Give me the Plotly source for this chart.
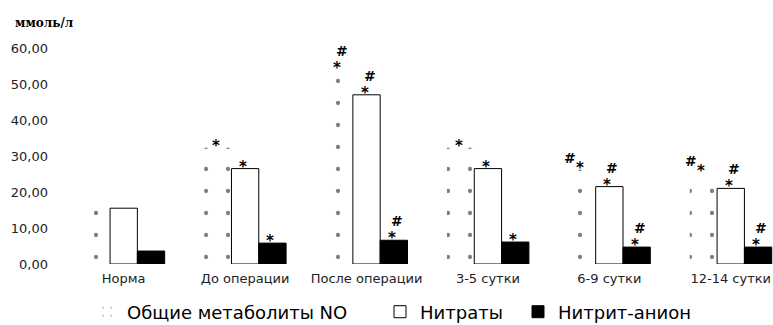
import plotly.graph_objects as go

# ---- data ----
categories = ["Норма", "До операции", "После операции", "3-5 сутки", "6-9 сутки", "12-14 сутки"]
total_no = [19.1, 32.3, 53.9, 32.3, 26.2, 25.4]
nitrates = [15.5, 26.5, 47.0, 26.5, 21.5, 21.0]
nitrite = [3.6, 5.8, 6.6, 6.1, 4.7, 4.7]

series_names = ["Общие метаболиты NO", "Нитраты", "Нитрит-анион"]

# significance marks: * vs norm, # vs pre-operation
total_star = [False, True, True, True, True, True]
total_hash = [False, False, True, False, True, True]
nitrates_star = [False, True, True, True, True, True]
nitrates_hash = [False, False, True, False, True, True]
nitrite_star = [False, True, True, True, True, True]
nitrite_hash = [False, False, True, False, True, True]

y_tick_vals = [0, 10, 20, 30, 40, 50, 60]
y_tick_text = ["0,00", "10,00", "20,00", "30,00", "40,00", "50,00", "60,00"]
y_title = "ммоль/л"

# ---- layout constants ----
W, H = 773, 325
ML, MR, MT, MB = 63, 0, 48, 61
plot_w = W - ML - MR
x_range = [-0.5, 5.348]
px_per_cat = plot_w / (x_range[1] - x_range[0])
bargap = 0.325
bar_px = px_per_cat * (1 - bargap) / 3

FONT = "DejaVu Sans"

fig = go.Figure()
fig.add_trace(go.Bar(
    name=series_names[0], x=categories, y=total_no,
    marker=dict(color="white", line=dict(width=0),
                pattern=dict(shape=".", fgcolor="#000", bgcolor="white",
                             size=22, solidity=0.03, fillmode="overlay")),
    legend="legend",
))
fig.add_trace(go.Bar(
    name=series_names[1], x=categories, y=nitrates,
    marker=dict(color="white", line=dict(color="#000", width=1)),
    legend="legend2",
))
fig.add_trace(go.Bar(
    name=series_names[2], x=categories, y=nitrite,
    marker=dict(color="#000", line=dict(color="#000", width=1)),
    legend="legend3",
))

annotations = []
all_vals = [total_no, nitrates, nitrite]
all_star = [total_star, nitrates_star, nitrite_star]
all_hash = [total_hash, nitrates_hash, nitrite_hash]
for s in range(3):
    off = (s - 1) * bar_px
    for i, cat in enumerate(categories):
        v = all_vals[s][i]
        if all_star[s][i]:
            annotations.append(dict(
                x=cat, y=v, xref="x", yref="y", text="<b>*</b>", showarrow=False,
                xshift=off - 2, yshift=2, yanchor="middle",
                font=dict(family=FONT, size=15, color="#000"),
            ))
        if all_hash[s][i]:
            beside = (s == 0 and i >= 4)
            annotations.append(dict(
                x=cat, y=v, xref="x", yref="y", text="<b>#</b>", showarrow=False,
                xshift=off - 12 if beside else off + 3,
                yshift=12 if beside else 19, yanchor="middle",
                font=dict(family=FONT, size=14, color="#000"),
            ))

annotations.append(dict(
    x=(13 - ML) / plot_w, y=(H - MB - 23) / (H - MT - MB), xref="paper", yref="paper",
    text="<b>" + y_title + "</b>", showarrow=False, xanchor="left", yanchor="middle",
    font=dict(family="DejaVu Serif", size=12, color="#000"),
))

legend_common = dict(orientation="h", xref="container", yref="container",
                      xanchor="left", yanchor="middle", y=1 - 312 / H,
                      font=dict(family=FONT, size=18, color="#000"),
                      bgcolor="rgba(0,0,0,0)", borderwidth=0)

fig.update_layout(
    width=W, height=H,
    margin=dict(l=ML, r=MR, t=MT, b=MB),
    paper_bgcolor="white", plot_bgcolor="white",
    barmode="group", bargap=bargap, bargroupgap=0,
    showlegend=True,
    legend=dict(legend_common, x=(127 - 40) / W),
    legend2=dict(legend_common, x=(420 - 40) / W),
    legend3=dict(legend_common, x=(558 - 40) / W),
    xaxis=dict(range=x_range, showgrid=False, zeroline=False, showline=False,
               ticks="", ticklabelstandoff=5,
               tickfont=dict(family=FONT, size=13, color="#222")),
    yaxis=dict(range=[0, 60], tickvals=y_tick_vals, ticktext=y_tick_text,
               showgrid=False, zeroline=False, showline=False, ticks="",
               ticklabelstandoff=14,
               tickfont=dict(family=FONT, size=13, color="#222")),
    annotations=annotations,
)

fig.write_html("out.html",
               config={"displayModeBar": False},
               post_script="document.body.style.margin='0';document.body.style.overflow='hidden';")
